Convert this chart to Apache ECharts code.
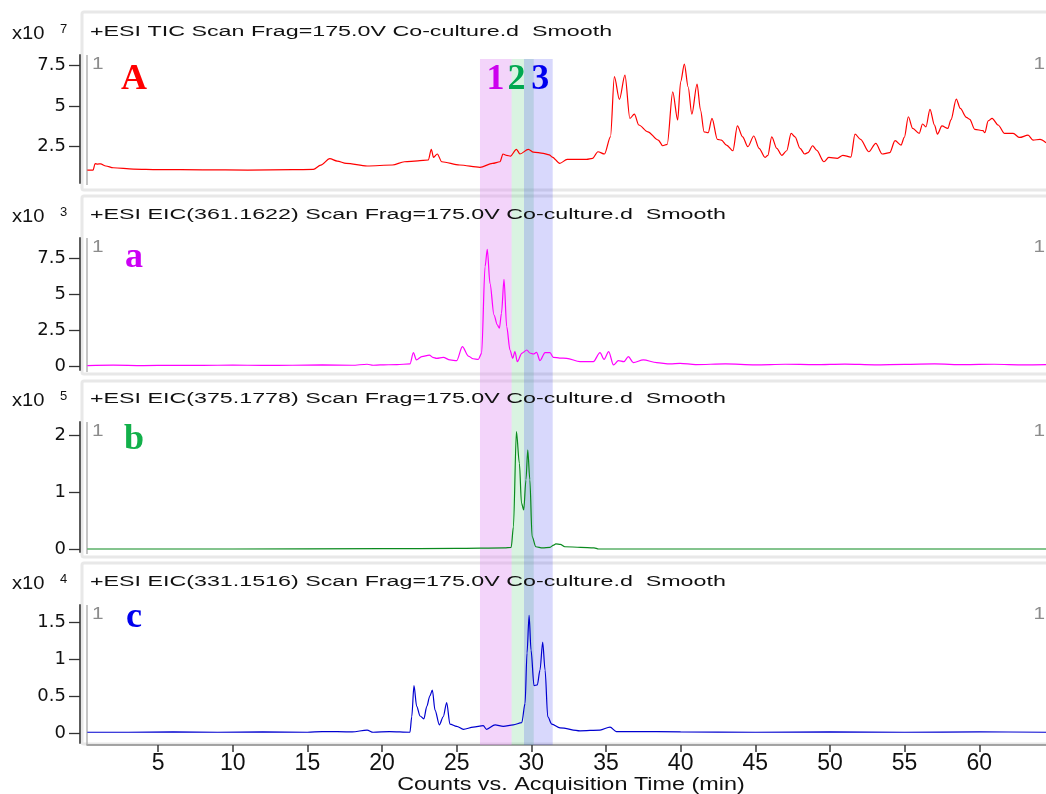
<!DOCTYPE html>
<html>
<head>
<meta charset="utf-8">
<script src="https://cdn.jsdelivr.net/npm/echarts@6/dist/echarts.min.js"></script>
<style>
  html, body { margin: 0; padding: 0; background: #ffffff; }
  #chart { width: 1046px; height: 794px; }
</style>
</head>
<body>
<div id="chart"></div>
<script>
// ---- Total ion chromatogram (counts x10^7) ----
const ticTime = [0.26, 0.65, 0.78, 0.95, 1.15, 1.5, 2.0, 3.35, 5.0, 8.0, 11.0, 14.0, 15.4, 15.9, 16.5, 17.0, 17.6, 19.0, 20.7, 21.5,
  22.4, 23.1, 23.3, 23.45, 23.7, 24.0, 25.2, 26.56, 27.4, 27.9, 28.1, 28.35, 28.6, 29.0, 29.24, 29.8, 30.14, 30.8, 31.2, 31.4,
  31.9, 32.4, 33.7, 34.1, 34.46, 34.9, 35.3, 35.56, 35.9, 36.27, 36.6, 36.9, 37.2, 37.8, 38.5, 38.8, 39.1, 39.47, 39.8, 40.0,
  40.25, 40.5, 40.75, 41.1, 41.33, 41.57, 41.84, 42.1, 42.46, 42.73, 43.07, 43.5, 43.8, 44.15, 44.5, 44.9, 45.25, 45.65, 45.84, 46.1,
  46.44, 46.77, 47.1, 47.4, 47.66, 48.0, 48.3, 48.53, 48.84, 49.1, 49.6, 49.92, 50.5, 50.86, 51.4, 51.68, 52.05, 52.6, 53.07, 53.5,
  54.0, 54.36, 54.76, 54.98, 55.25, 55.54, 55.98, 56.2, 56.43, 56.7, 57.0, 57.2, 57.5, 57.9, 58.1, 58.46, 58.73, 59.14, 59.36, 59.7,
  60.25, 60.37, 60.6, 60.86, 61.26, 61.7, 62.27, 62.7, 63.27, 63.6, 64.07, 64.47];
const ticCounts = [1.05, 1.05, 1.45, 1.42, 1.43, 1.30, 1.19, 1.11, 1.08, 1.06, 1.05, 1.07, 1.09, 1.35, 1.75, 1.60, 1.46, 1.30, 1.36, 1.56,
  1.62, 1.67, 2.33, 1.83, 2.04, 1.56, 1.36, 1.22, 1.46, 1.56, 2.04, 1.95, 1.91, 2.33, 2.04, 2.33, 2.16, 2.08, 1.99, 1.85,
  1.46, 1.71, 1.71, 1.77, 2.18, 2.04, 3.10, 6.81, 5.41, 6.91, 4.24, 4.50, 3.83, 3.41, 2.90, 2.55, 2.64, 5.88, 4.14, 6.50,
  7.59, 6.19, 4.50, 6.36, 4.75, 3.41, 3.35, 4.24, 2.94, 2.90, 2.59, 2.24, 3.77, 3.10, 2.49, 3.15, 2.39, 1.83, 1.96, 3.10,
  2.39, 1.96, 2.24, 3.31, 3.10, 2.39, 2.04, 2.12, 2.55, 2.28, 1.56, 1.83, 1.77, 1.96, 1.85, 3.27, 2.94, 2.18, 2.70, 2.04,
  2.12, 2.86, 2.59, 3.06, 4.34, 3.62, 3.31, 3.89, 3.72, 4.80, 3.83, 3.27, 3.77, 3.62, 4.14, 5.43, 4.85, 4.30, 4.18, 3.56,
  3.48, 3.35, 4.08, 4.24, 3.83, 3.31, 3.31, 3.06, 3.20, 2.90, 2.94, 2.74];

// ---- EIC m/z 361.1622 (counts x10^3) ----
const eic361Time = [0.26, 2, 4, 6, 8, 10, 12, 14, 16, 18, 19.0, 19.4, 19.87, 21.0, 21.87, 22.1, 22.3, 22.66, 23.17, 23.4,
  23.66, 24.1, 24.55, 25.0, 25.38, 25.78, 26.1, 26.45, 26.67, 26.9, 27.05, 27.23, 27.5, 27.72, 27.86, 28.0, 28.17, 28.35, 28.57, 28.75,
  28.9, 29.06, 29.36, 29.7, 29.9, 30.14, 30.35, 30.58, 30.92, 31.25, 31.47, 31.9, 32.37, 33.26, 34.15, 34.6, 34.87, 35.18, 35.5, 35.83,
  36.2, 36.5, 36.83, 37.5, 38.4, 39.3, 39.96, 41, 43, 45, 47, 49, 51, 53, 55, 57, 59, 61, 63, 64.47];
const eic361Counts = [0.03, 0.06, 0.03, 0.05, 0.04, 0.06, 0.04, 0.05, 0.07, 0.05, 0.12, 0.05, 0.07, 0.10, 0.14, 0.93, 0.42, 0.65, 0.76, 0.60,
  0.53, 0.60, 0.42, 0.37, 1.34, 0.69, 0.50, 0.46, 0.88, 6.90, 8.10, 5.74, 3.54, 2.85, 2.62, 3.66, 6.02, 2.73, 1.11, 0.53,
  1.00, 0.30, 0.88, 1.11, 0.90, 0.83, 0.95, 0.37, 0.93, 0.93, 0.60, 0.55, 0.53, 0.30, 0.30, 0.93, 0.46, 1.00, 0.07, 0.37,
  0.30, 0.65, 0.23, 0.42, 0.23, 0.14, 0.18, 0.10, 0.14, 0.08, 0.12, 0.09, 0.13, 0.08, 0.11, 0.14, 0.09, 0.12, 0.08, 0.10];

// ---- EIC m/z 375.1778 (counts x10^5) ----
const eic375Time = [0.26, 10, 20, 25, 28.2, 28.65, 28.8, 29.0, 29.2, 29.34, 29.49, 29.64, 29.76, 29.9, 30.05, 30.3, 30.75, 31.25, 31.5, 31.64,
  31.94, 32.24, 33.3, 34.2, 34.5, 40, 50, 64.47];
const eic375Counts = [0.0, 0.0, 0.005, 0.01, 0.02, 0.03, 0.39, 2.07, 1.51, 0.81, 0.69, 1.22, 1.75, 1.22, 0.22, 0.04, 0.02, 0.03, 0.07, 0.09,
  0.08, 0.04, 0.03, 0.02, 0.0, 0.0, 0.0, 0.0];

// ---- EIC m/z 331.1516 (counts x10^4) ----
const eic331Time = [0.26, 3, 6, 9, 12, 15, 16, 18, 19.0, 19.4, 20.5, 21.87, 21.99, 22.14, 22.32, 22.55, 22.8, 23.0, 23.2, 23.37,
  23.55, 23.84, 24.1, 24.33, 24.55, 25.0, 25.45, 26.11, 26.78, 27.0, 27.57, 28.12, 28.79, 29.36, 29.58, 29.71, 29.85, 29.98, 30.18, 30.4,
  30.58, 30.76, 30.92, 31.1, 31.37, 31.92, 33.26, 34.6, 35.27, 35.7, 36.8, 40, 45, 50, 55, 60, 64.47];
const eic331Counts = [0.01, 0.01, 0.015, 0.01, 0.015, 0.01, 0.02, 0.015, 0.04, 0.01, 0.02, 0.01, 0.22, 0.64, 0.36, 0.23, 0.19, 0.36, 0.50, 0.58,
  0.31, 0.11, 0.22, 0.41, 0.12, 0.09, 0.05, 0.08, 0.10, 0.05, 0.11, 0.09, 0.11, 0.14, 0.40, 1.08, 1.59, 1.12, 0.64, 0.65,
  0.85, 1.23, 0.85, 0.22, 0.12, 0.07, 0.03, 0.04, 0.08, 0.02, 0.02, 0.015, 0.01, 0.015, 0.01, 0.015, 0.01];

// ---- axis ticks ----
const timeTicks = [5, 10, 15, 20, 25, 30, 35, 40, 45, 50, 55, 60];
const ticTicks = [2.5, 5, 7.5];
const eic361Ticks = [0, 2.5, 5, 7.5];
const eic375Ticks = [0, 1, 2];
const eic331Ticks = [0, 0.5, 1, 1.5];

// ---- highlighted retention windows (min) ----
const windowRanges = [[26.56, 28.68], [28.68, 30.16], [29.51, 31.43]];
const windowLabels = ['1', '2', '3'];
const windowLabelTimes = [27.6, 29.0, 30.6];

// ---- trace headers ----
const traceTitles = [
  '+ESI TIC Scan Frag=175.0V Co-culture.d  Smooth',
  '+ESI EIC(361.1622) Scan Frag=175.0V Co-culture.d  Smooth',
  '+ESI EIC(375.1778) Scan Frag=175.0V Co-culture.d  Smooth',
  '+ESI EIC(331.1516) Scan Frag=175.0V Co-culture.d  Smooth'
];
const traceExponents = ['7', '3', '5', '4'];
const traceLetters = ['A', 'a', 'b', 'c'];

const traces = [
  { time: ticTime, counts: ticCounts, ticks: ticTicks },
  { time: eic361Time, counts: eic361Counts, ticks: eic361Ticks },
  { time: eic375Time, counts: eic375Counts, ticks: eic375Ticks },
  { time: eic331Time, counts: eic331Counts, ticks: eic331Ticks }
];

// ---- styling / layout ----
const LINE_COLORS = ['#ff0000', '#ff00ff', '#0a8a1e', '#0000d0'];
const LETTER_COLORS = ['#ff0000', '#cc00f5', '#12b04a', '#0000ee'];
const WINDOW_FILLS = ['rgba(221,132,241,0.35)', 'rgba(80,200,120,0.22)', 'rgba(60,60,240,0.20)'];
const WINDOW_TEXT = ['#cc00ee', '#00a850', '#0000ee'];
const GRID_LEFT = 87;
const AXIS_X = 80;
const X_MIN = 0.24, X_MAX = 64.47;
const PANEL = [
  { top: 55,  bottom: 183, yMin: 0.25,   yMax: 8.15, frameTop: 12,  frameBottom: 190, titleY: 32,  letterY: 80 },
  { top: 238, bottom: 370, yMin: -0.28,  yMax: 8.89, frameTop: 196, frameBottom: 374, titleY: 215, letterY: 258 },
  { top: 422, bottom: 552, yMin: -0.053, yMax: 2.24, frameTop: 381, frameBottom: 557, titleY: 399, letterY: 440 },
  { top: 605, bottom: 743, yMin: -0.135, yMax: 1.73, frameTop: 563, frameBottom: 744, titleY: 582, letterY: 618 }
];
const SANS = '"Liberation Sans", Arial, sans-serif';
const SERIF = '"Liberation Serif", "Times New Roman", serif';
const HEADER_STRETCH = 1.5;

const chart = echarts.init(document.getElementById('chart'), null, { renderer: 'canvas' });

const grids = PANEL.map(p => ({ left: GRID_LEFT, right: 0, top: p.top, height: p.bottom - p.top }));

const xAxes = PANEL.map((p, i) => {
  const last = i === PANEL.length - 1;
  return {
    type: 'value', gridIndex: i, min: X_MIN, max: X_MAX,
    show: last,
    offset: 2,
    axisLine: { show: true, onZero: false, lineStyle: { color: '#8a8a8a', width: 1.5 } },
    axisTick: { show: true, customValues: timeTicks, length: 7, lineStyle: { color: '#3a3a3a', width: 1.5 } },
    axisLabel: { customValues: timeTicks, fontSize: 23, fontFamily: SANS, color: '#111', margin: 7 },
    splitLine: { show: false }
  };
});

const yAxes = PANEL.map((p, i) => ({
  type: 'value', gridIndex: i, min: p.yMin, max: p.yMax,
  offset: GRID_LEFT - AXIS_X,
  axisLine: { show: true, onZero: false, lineStyle: { color: '#5c5c5c', width: 2 } },
  axisTick: { show: true, customValues: traces[i].ticks, length: 11, lineStyle: { color: '#333', width: 1.3 } },
  axisLabel: { customValues: traces[i].ticks, fontSize: 18, fontFamily: '"DejaVu Sans", sans-serif', color: '#111', margin: 14,
    formatter: v => String(v) },
  splitLine: { show: false }
}));

const series = traces.map((tr, i) => ({
  type: 'line', xAxisIndex: i, yAxisIndex: i,
  data: tr.time.map((t, k) => [t, tr.counts[k]]),
  showSymbol: false, symbol: 'none',
  smooth: 0.3, smoothMonotone: 'x',
  lineStyle: { color: LINE_COLORS[i], width: 1.2 },
  silent: true, z: 5
}));

chart.setOption({
  animation: false,
  backgroundColor: '#ffffff',
  grid: grids,
  xAxis: xAxes,
  yAxis: yAxes,
  series: series
});

// ---- frames, shaded windows and text annotations ----
const graphics = [];
const W = 1046;

PANEL.forEach((p, i) => {
  // panel frame
  graphics.push({
    type: 'rect', z: 0, silent: true,
    shape: { x: 82, y: p.frameTop, width: W - 82 + 20, height: p.frameBottom - p.frameTop, r: 2 },
    style: { fill: 'none', stroke: '#e8e8e8', lineWidth: 3 }
  });
  // inner edge of plot area
  graphics.push({
    type: 'line', z: 1, silent: true,
    shape: { x1: GRID_LEFT, y1: p.top, x2: GRID_LEFT, y2: p.bottom + 2 },
    style: { stroke: '#a6a6a6', lineWidth: 1.3 }
  });
  // trace header
  graphics.push({
    type: 'text', z: 100, silent: true, x: 90, y: p.titleY, scaleX: HEADER_STRETCH,
    style: { text: traceTitles[i], font: '15.5px ' + SANS, fill: '#111', textVerticalAlign: 'middle', textAlign: 'left' }
  });
  // scale factor
  graphics.push({
    type: 'text', z: 100, silent: true, x: 12, y: p.titleY + 2, scaleX: 1.12,
    style: { text: 'x10', font: '18px ' + SANS, fill: '#111', textVerticalAlign: 'middle', textAlign: 'left' }
  });
  graphics.push({
    type: 'text', z: 100, silent: true, x: 60, y: p.titleY - 3,
    style: { text: traceExponents[i], font: '13px ' + SANS, fill: '#111', textVerticalAlign: 'middle', textAlign: 'left' }
  });
  // trace number markers
  graphics.push({
    type: 'text', z: 100, silent: true, x: 92, y: p.top + 10, scaleX: 1.3,
    style: { text: '1', font: '16px ' + SANS, fill: '#8c8c8c', textVerticalAlign: 'middle', textAlign: 'left' }
  });
  graphics.push({
    type: 'text', z: 100, silent: true, x: W - 1, y: p.top + 10, scaleX: 1.3,
    style: { text: '1', font: '16px ' + SANS, fill: '#8c8c8c', textVerticalAlign: 'middle', textAlign: 'right' }
  });
  // panel letter
  graphics.push({
    type: 'text', z: 100, silent: true, x: 134, y: p.letterY,
    style: { text: traceLetters[i], font: 'bold 36px ' + SERIF, fill: LETTER_COLORS[i], textVerticalAlign: 'middle', textAlign: 'center' }
  });
});

// shaded retention windows spanning all traces
const bandTop = PANEL[0].top + 4;
const bandBottom = PANEL[PANEL.length - 1].bottom + 2;
windowRanges.forEach((r, i) => {
  const x0 = chart.convertToPixel({ xAxisIndex: 0 }, r[0]);
  const x1 = chart.convertToPixel({ xAxisIndex: 0 }, r[1]);
  graphics.push({
    type: 'rect', z: 2, silent: true,
    shape: { x: x0, y: bandTop, width: x1 - x0, height: bandBottom - bandTop },
    style: { fill: WINDOW_FILLS[i] }
  });
  const xl = chart.convertToPixel({ xAxisIndex: 0 }, windowLabelTimes[i]);
  graphics.push({
    type: 'text', z: 100, silent: true, x: xl, y: 80,
    style: { text: windowLabels[i], font: 'bold 36px ' + SERIF, fill: WINDOW_TEXT[i], textVerticalAlign: 'middle', textAlign: 'center' }
  });
});

// axis title
graphics.push({
  type: 'text', z: 100, silent: true, x: 571, y: 785, scaleX: 1.3,
  style: { text: 'Counts vs. Acquisition Time (min)', font: '18px ' + SANS, fill: '#111', textVerticalAlign: 'middle', textAlign: 'center' }
});

chart.setOption({ graphic: graphics });
</script>
</body>
</html>
